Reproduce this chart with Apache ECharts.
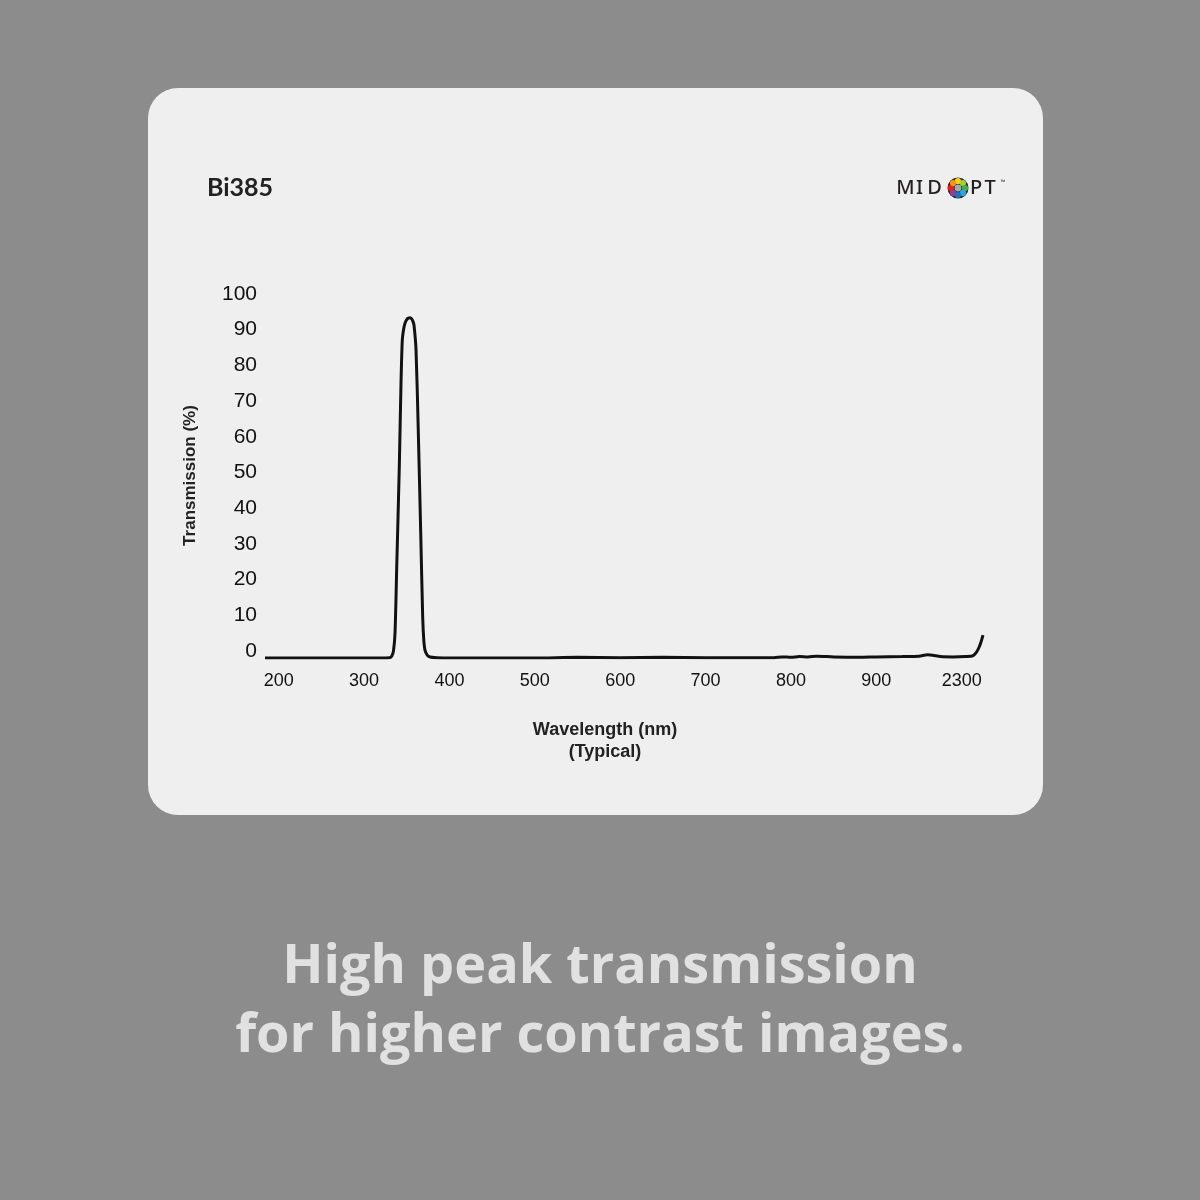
<!DOCTYPE html>
<html>
<head>
<meta charset="utf-8">
<style>
html,body{margin:0;padding:0;background:#8c8c8c;}
#chart{width:1200px;height:1200px;}
</style>
<script src="https://cdn.jsdelivr.net/npm/echarts@6.0.0/dist/echarts.min.js"></script>
</head>
<body>
<div id="chart"></div>
<script>
// ---- data ----
const wavelengths = [184, 250, 300, 330, 332.4, 334.5, 336.3, 338.3, 341.3, 343.3, 344.8, 346.3, 348, 350, 351.9, 353.9, 355.8, 357.3, 358.5, 360.9, 363.6, 366.4, 368.7, 370, 371.4, 374, 377.3, 385, 400, 450, 500, 550, 600, 650, 700, 750, 780, 790, 800, 810, 820, 830, 850, 880, 900, 930, 950, 960, 966, 975, 990, 1005, 1013, 1017, 1020, 1022.7, 1025];
const transmission = [0, 0, 0, 0.1, 0.5, 2, 7, 25.5, 53.5, 77, 89, 92, 93.8, 94.8, 95.2, 95.3, 95, 94.3, 93.3, 86.3, 63, 35, 11.5, 5, 2.2, 0.8, 0.3, 0.1, 0, 0, 0, 0.2, 0.1, 0.2, 0.1, 0.1, 0.1, 0.3, 0.2, 0.4, 0.3, 0.5, 0.3, 0.2, 0.3, 0.4, 0.5, 0.9, 0.8, 0.4, 0.3, 0.4, 0.6, 1.5, 2.8, 4.5, 6.4];
const xTickValues = [200, 300, 400, 500, 600, 700, 800, 900, 1000];
const xTickLabels = ['200', '300', '400', '500', '600', '700', '800', '900', '2300'];
const yTickMax = 100;
const yTickStep = 10;

const chartTitle = 'Bi385';
const yAxisName = 'Transmission (%)';
const xAxisName = 'Wavelength (nm)\n(Typical)';
const captionLines = ['High peak transmission', 'for higher contrast images.'];

const seriesData = wavelengths.map((w, i) => [w, transmission[i]]);

const chart = echarts.init(document.getElementById('chart'));

const logoDotColors = ['#f7d117', '#a6ce39', '#39b54a', '#27aae1', '#1c75bc', '#8e3f97', '#ed1c24', '#f7941d'];
const logoCx = 958, logoCy = 188;
const logoDots = logoDotColors.map((c, i) => {
  const a = -Math.PI / 2 + i * Math.PI * 2 / logoDotColors.length;
  return {
    type: 'circle',
    shape: { cx: logoCx + 7 * Math.cos(a), cy: logoCy + 7 * Math.sin(a), r: 3.1 },
    style: { fill: c },
    z: 12
  };
});

const logoLetters = [['M', 905.5], ['I', 919.5], ['D', 934.5], ['P', 976], ['T', 990]].map(([t, x]) => ({
  type: 'text',
  x: x, y: 188,
  style: { text: t, fill: '#231f20', font: '500 20px "Noto Sans"', align: 'center', verticalAlign: 'middle' },
  z: 12
}));

chart.setOption({
  backgroundColor: '#8c8c8c',
  animation: false,
  grid: { left: 265, right: 217, top: 301, bottom: 542, containLabel: false },
  xAxis: {
    type: 'value',
    min: 184,
    max: 1025,
    axisLine: { show: false },
    axisTick: { show: false },
    splitLine: { show: false },
    axisLabel: {
      customValues: xTickValues,
      formatter: v => xTickLabels[xTickValues.indexOf(v)] ?? '',
      color: '#111',
      fontSize: 18,
      fontFamily: '"Liberation Sans", Arial, sans-serif',
      margin: 14
    },
    name: xAxisName,
    nameLocation: 'middle',
    nameGap: 61,
    nameTextStyle: {
      color: '#222',
      fontSize: 18,
      fontWeight: 'bold',
      fontFamily: '"Liberation Sans", Arial, sans-serif',
      lineHeight: 22,
      padding: [0, 38, 0, 0]
    }
  },
  yAxis: {
    type: 'value',
    min: 0,
    max: yTickMax,
    interval: yTickStep,
    axisLine: { show: false },
    axisTick: { show: false },
    splitLine: { show: false },
    axisLabel: {
      color: '#111',
      fontSize: 21,
      fontFamily: '"Liberation Sans", Arial, sans-serif',
      margin: 8,
      verticalAlign: 'bottom',
      lineHeight: 14
    },
    name: yAxisName,
    nameLocation: 'middle',
    nameGap: 66,
    nameRotate: 90,
    nameTextStyle: {
      color: '#222',
      fontSize: 17,
      fontWeight: 'bold',
      fontFamily: '"Liberation Sans", Arial, sans-serif',
      padding: [0, 0, 0, 8]
    }
  },
  series: [{
    type: 'line',
    data: seriesData,
    showSymbol: false,
    smooth: 0.25,
    lineStyle: { color: '#111', width: 3 },
    z: 5
  }],
  graphic: [
    {
      type: 'rect',
      shape: { x: 148, y: 88, width: 895, height: 727, r: 30 },
      style: { fill: '#efefef' },
      z: -10,
      silent: true
    },
    {
      type: 'text',
      x: 207, y: 188,
      style: { text: chartTitle, fill: '#222', font: 'bold 25px Lato, "Open Sans", sans-serif', align: 'left', verticalAlign: 'middle' },
      z: 12
    },
    {
      type: 'circle',
      shape: { cx: logoCx, cy: logoCy, r: 10.5 },
      style: { fill: '#2a2a2a' },
      z: 11
    },
    {
      type: 'circle',
      shape: { cx: logoCx, cy: logoCy, r: 3.4 },
      style: { fill: '#a7a9ac' },
      z: 12
    },
    ...logoDots,
    ...logoLetters,
    {
      type: 'text',
      x: 1003, y: 182,
      style: { text: '™', fill: '#231f20', font: '6px "Noto Sans"', align: 'center', verticalAlign: 'middle' },
      z: 12
    },
    {
      type: 'text',
      x: 600, y: 968,
      style: { text: captionLines[0], fill: '#e1e1e1', font: 'bold 54px "Open Sans", Lato, sans-serif', align: 'center', verticalAlign: 'middle' },
      z: 12
    },
    {
      type: 'text',
      x: 600, y: 1037,
      style: { text: captionLines[1], fill: '#e1e1e1', font: 'bold 54px "Open Sans", Lato, sans-serif', align: 'center', verticalAlign: 'middle' },
      z: 12
    }
  ]
});
</script>
</body>
</html>
